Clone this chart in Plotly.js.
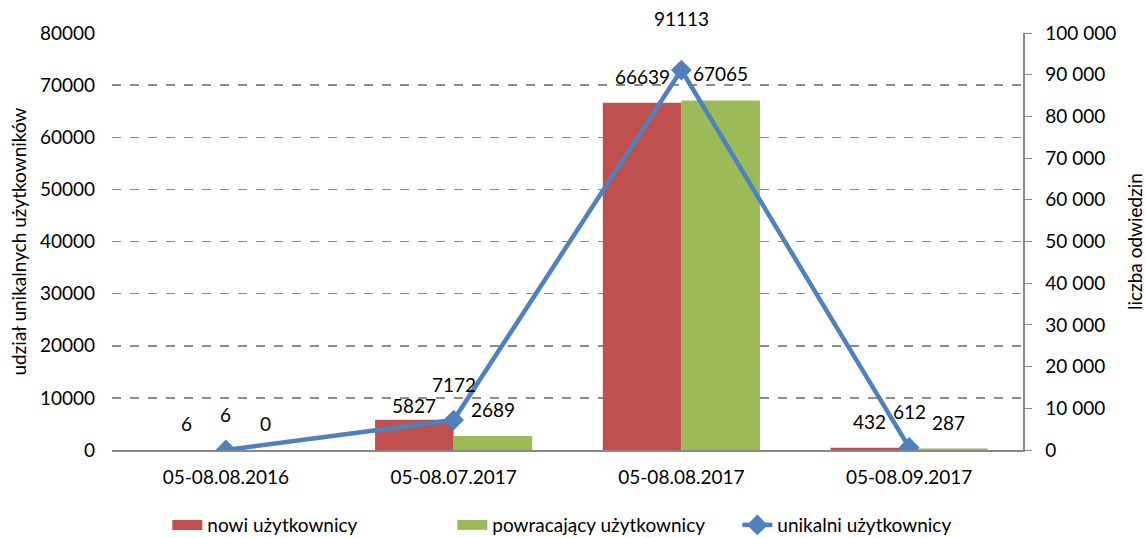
<!DOCTYPE html>
<html>
<head>
<meta charset="utf-8">
<script src="https://cdn.plot.ly/plotly-3.0.1.min.js"></script>
<style>
  html, body { margin: 0; padding: 0; background: #fff; }
  #chart { width: 1146px; height: 538px; }
</style>
</head>
<body>
<div id="chart"></div>
<script>
// ==================== DATA ====================
const periods = ['05-08.08.2016', '05-08.07.2017', '05-08.08.2017', '05-08.09.2017'];
const newUsers = [6, 5827, 66639, 432];
const returningUsers = [0, 2689, 67065, 287];
const uniqueUsers = [6, 7172, 91113, 612];

const leftTicks = [0, 10000, 20000, 30000, 40000, 50000, 60000, 70000, 80000];

// ==================== STYLE ====================
const RED = '#C0504D';
const GREEN = '#9BBB59';
const BLUE = '#4F81BD';
const FONT = 'Lato, "Open Sans", sans-serif';
const FS = 19;
const BARGAP = 0.31;

// ==================== TRACES ====================
// legend swatches drawn as wide blocks, like the original
const legendSwatch = (name, color) => ({
  type: 'scatter', mode: 'lines', name: name,
  x: [null], y: [null],
  line: { color: color, width: 14 },
  hoverinfo: 'skip'
});

const traces = [
  legendSwatch('nowi użytkownicy', RED),
  legendSwatch('powracający użytkownicy', GREEN),
  {
    type: 'bar',
    name: 'nowi użytkownicy',
    x: periods,
    y: newUsers,
    marker: { color: RED },
    showlegend: false
  },
  {
    type: 'bar',
    name: 'powracający użytkownicy',
    x: periods,
    y: returningUsers,
    marker: { color: GREEN },
    showlegend: false
  },
  {
    type: 'scatter',
    mode: 'lines+markers',
    name: 'unikalni użytkownicy',
    x: periods,
    y: uniqueUsers,
    yaxis: 'y2',
    line: { color: BLUE, width: 4.5 },
    marker: { symbol: 'diamond', size: 16, color: BLUE }
  }
];

// ==================== DATA LABELS ====================
// a couple of labels were moved by hand in the original
const labelNudge = { 'new-1': -12, 'unique-2': 16 };

const half = (1 - BARGAP) / 4;
const annotations = [];
function addLabels(key, values, dx, yref, yshift) {
  values.forEach((v, i) => {
    annotations.push({
      x: i + dx, y: v, xref: 'x', yref: yref,
      text: String(v), showarrow: false,
      yanchor: 'bottom', yshift: yshift + (labelNudge[key + '-' + i] || 0),
      font: { family: FONT, size: FS, color: '#000' }
    });
  });
}
addLabels('new', newUsers, -half, 'y', 13);
addLabels('returning', returningUsers, half, 'y', 13);
addLabels('unique', uniqueUsers, 0, 'y2', 22);

// ==================== LAYOUT ====================
const layout = {
  width: 1146,
  height: 538,
  margin: { l: 112, r: 123, t: 33, b: 88, autoexpand: false },
  paper_bgcolor: '#fff',
  plot_bgcolor: '#fff',
  font: { family: FONT, size: FS, color: '#000' },
  separators: ', ',
  barmode: 'group',
  bargap: BARGAP,
  bargroupgap: 0,
  showlegend: true,
  legend: {
    orientation: 'h',
    x: 0.53, xanchor: 'center',
    y: -0.18, yanchor: 'middle',
    font: { family: FONT, size: FS },
    entrywidth: 240,
    traceorder: 'normal'
  },
  xaxis: {
    type: 'category',
    showline: true,
    linecolor: '#888',
    linewidth: 1.5,
    ticks: '',
    ticklabelstandoff: 10,
    showgrid: false,
    zeroline: false,
    tickfont: { family: FONT, size: FS }
  },
  yaxis: {
    range: [0, 80000],
    tickvals: leftTicks,
    tickformat: 'd',
    showline: false,
    ticks: '',
    ticklabelstandoff: 16,
    showgrid: true,
    gridcolor: '#8c8c8c',
    griddash: 'dash',
    gridwidth: 1.5,
    zeroline: false,
    tickfont: { family: FONT, size: FS },
    title: { text: 'udział unikalnych użytkowników', font: { family: FONT, size: FS }, standoff: 8 }
  },
  yaxis2: {
    overlaying: 'y',
    side: 'right',
    range: [0, 100000],
    dtick: 10000,
    tickformat: ',d',
    showline: true,
    linecolor: '#888',
    linewidth: 1.5,
    ticks: 'outside',
    ticklen: 7,
    tickcolor: '#888',
    ticklabelstandoff: 10,
    showgrid: false,
    zeroline: false,
    tickfont: { family: FONT, size: FS },
    title: { text: 'liczba odwiedzin', font: { family: FONT, size: FS }, standoff: 20 }
  },
  annotations: annotations
};

Plotly.newPlot('chart', traces, layout, { staticPlot: true });
</script>
</body>
</html>
